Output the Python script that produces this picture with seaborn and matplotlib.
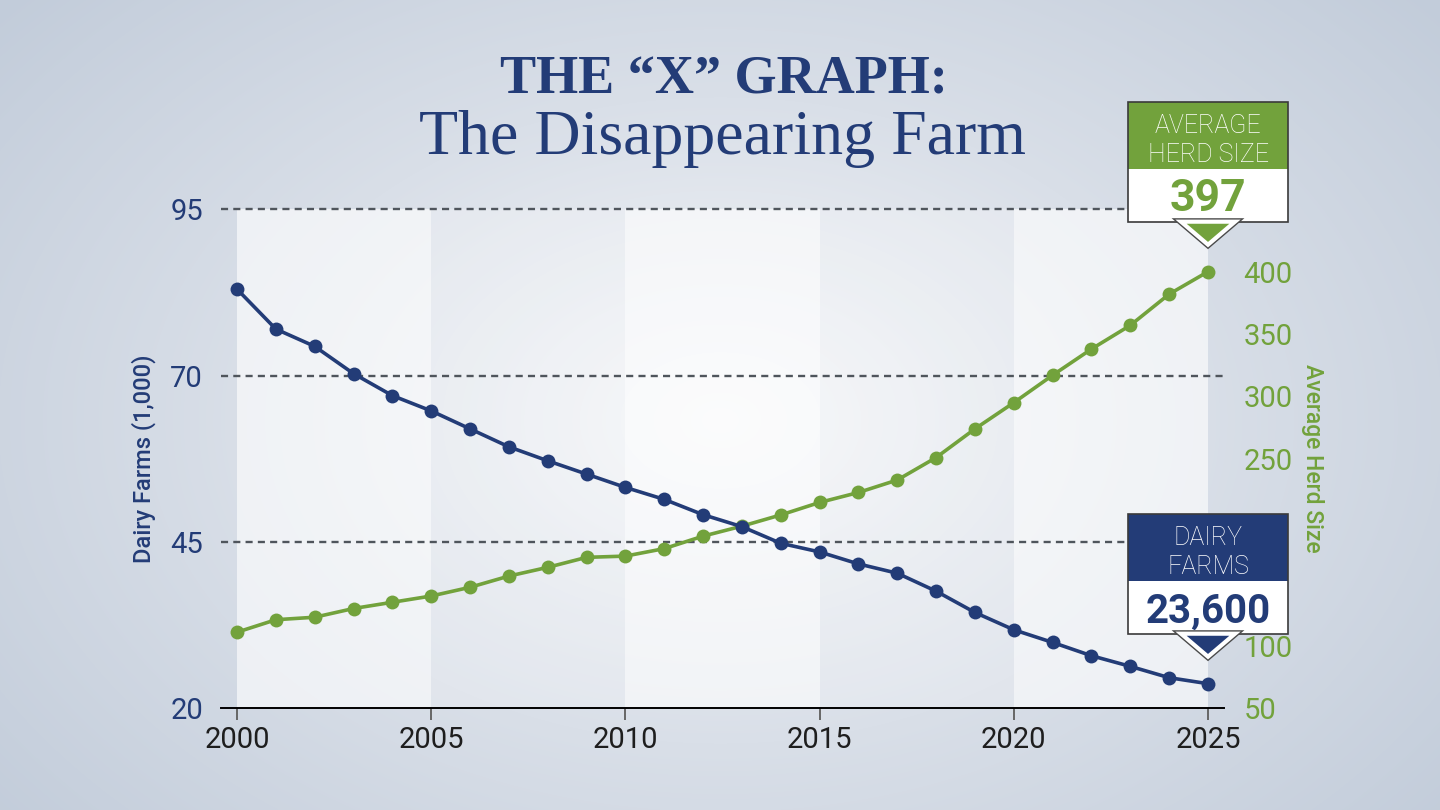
import numpy as np
import matplotlib
matplotlib.use('Agg')
import matplotlib.pyplot as plt
import matplotlib.patheffects as pe
from matplotlib.colors import LinearSegmentedColormap
from matplotlib.patches import Rectangle, Polygon
import seaborn as sns

# data
years = list(range(2000, 2026))
farms = [83.0, 77.0, 74.4, 70.3, 67.0, 64.7, 62.0, 59.3, 57.2, 55.2,
         53.2, 51.4, 49.1, 47.3, 44.8, 43.5, 41.7, 40.3, 37.6, 34.4,
         31.8, 29.9, 27.9, 26.3, 24.6, 23.7]
herd = [111, 121, 123, 130, 135, 140, 147, 156, 163, 171,
        172, 178, 188, 196, 205, 215, 223, 233, 251, 274,
        295, 317, 338, 357, 382, 400]
farm_ticks = [20, 45, 70, 95]
herd_ticks = [50, 100, 150, 200, 250, 300, 350, 400]
year_ticks = [2000, 2005, 2010, 2015, 2020, 2025]
callout_heads = ['AVERAGE\nHERD SIZE', 'DAIRY\nFARMS']
callout_values = ['397', '23,600']

navy = '#233c77'
green = '#72a23c'

sns.set_theme(style='white')
plt.rcParams['font.family'] = ['Roboto', 'DejaVu Sans']

W, H = 1440, 810
fig = plt.figure(figsize=(W / 100, H / 100), dpi=100)

# soft radial background
bg = fig.add_axes([0, 0, 1, 1], zorder=-10)
bg.axis('off')
yy, xx = np.mgrid[0:H, 0:W]
d = np.sqrt(((xx - 720) / 880) ** 2 + ((yy - 420) / 600) ** 2)
bg_cmap = LinearSegmentedColormap.from_list('bg', ['#f6f7f9', '#d9dfe8', '#c2ccda'])
bg.imshow(np.clip(d, 0, 1.1), cmap=bg_cmap, aspect='auto', extent=(0, 1, 0, 1))

ax = fig.add_axes([221 / W, 1 - 708.3 / H, 1003 / W, 499 / H])
ax.patch.set_alpha(0)

# alternating 5-year bands
for i, start in enumerate(year_ticks[:-1]):
    ax.axvspan(start, start + 5, color='white', alpha=0.62 if i % 2 == 0 else 0.24, lw=0, zorder=0)

ax2 = ax.twinx()
ax3 = ax.twinx()

sns.lineplot(x=years, y=herd, ax=ax2, color=green, marker='o', markersize=10,
             markeredgewidth=0, linewidth=2.6)
sns.lineplot(x=years, y=farms, ax=ax3, color=navy, marker='o', markersize=10,
             markeredgewidth=0, linewidth=2.6)

pad_yr = 16 / 38.84
ax.set_xlim(years[0] - pad_yr, years[-1] + pad_yr)
ax.set_ylim(20, 95)
ax2.set_ylim(50, 450)
ax3.set_ylim(20, 95)
ax3.axis('off')

ax.set_xticks(year_ticks)
ax.set_yticks(farm_ticks)
ax2.set_yticks(herd_ticks)

ax.yaxis.grid(True, linestyle=(0, (3, 2.2)), color='#4f555c', linewidth=1.7)
grid = ax.get_ygridlines()
grid[0].set_visible(False)
grid[-1].set_clip_on(False)
ax.set_axisbelow(True)

for s in ['top', 'left', 'right']:
    ax.spines[s].set_visible(False)
for s in ax2.spines.values():
    s.set_visible(False)
ax.spines['bottom'].set_color('black')
ax.spines['bottom'].set_linewidth(1.4)

ax.tick_params(axis='x', bottom=True, length=8.6, width=1.4, color='#666666',
               labelsize=21, labelcolor='#1e1e1e', pad=4)
ax.tick_params(axis='y', left=False, labelsize=21, labelcolor=navy, pad=7)
ax2.tick_params(axis='y', right=False, labelsize=21, labelcolor=green, pad=8)

ax.set_ylabel('Dairy Farms (1,000)', color=navy, fontsize=17, fontweight='medium')
ax.yaxis.set_label_coords((156 - 221) / 1003, 0.5)
ax2.set_ylabel('Average Herd Size', color=green, fontsize=16.5, fontweight='medium',
               rotation=270, va='bottom')
ax2.yaxis.set_label_coords((1301 - 221) / 1003, 0.5)

# title
fig.text(0.503, 1 - 93 / H, 'THE \u201cX\u201d GRAPH:', ha='center', va='baseline',
         fontsize=39, fontweight='bold', color=navy, family=['Liberation Serif'])
fig.text(0.502, 1 - 154 / H, 'The Disappearing Farm', ha='center', va='baseline',
         fontsize=46, color=navy, family=['Liberation Serif'])


def callout(axis, x, y, head, value, color, value_size):
    px, py = axis.transData.transform((x, y))
    tip = py + 25
    base = tip + 25
    white_h, head_h, half = 53, 67, 80
    tf = fig.transFigure
    fig.add_artist(Rectangle(((px - half) / W, base / H), 2 * half / W, white_h / H,
                             transform=tf, facecolor='white', edgecolor='none', zorder=20))
    fig.add_artist(Rectangle(((px - half) / W, (base + white_h) / H), 2 * half / W, head_h / H,
                             transform=tf, facecolor=color, edgecolor='none', zorder=20))
    fig.add_artist(Rectangle(((px - half) / W, base / H), 2 * half / W, (white_h + head_h) / H,
                             transform=tf, facecolor='none', edgecolor='#3a3a3a', lw=1.2, zorder=21))
    tri = Polygon([((px - 27) / W, base / H), ((px + 27) / W, base / H), (px / W, (tip + 2) / H)],
                  closed=True, transform=tf, facecolor=color, edgecolor='white', lw=3, zorder=22,
                  path_effects=[pe.Stroke(linewidth=5, foreground='#4a4a4a'), pe.Normal()])
    fig.add_artist(tri)
    top = base + white_h + head_h
    line1, line2 = head.split('\n')
    fig.text(px / W, (top - 31) / H, line1, ha='center', va='baseline', color='white',
             fontsize=18, fontweight='light', zorder=23)
    fig.text(px / W, (top - 60.5) / H, line2, ha='center', va='baseline', color='white',
             fontsize=18, fontweight='light', zorder=23)
    fig.text(px / W, (base + white_h - 42) / H, value, ha='center', va='baseline', color=color,
             fontsize=value_size, fontweight='bold', zorder=23)
    return base, top


callout(ax2, years[-1], herd[-1], callout_heads[0], callout_values[0], green, 32)
lo, hi = callout(ax3, years[-1], farms[-1], callout_heads[1], callout_values[1], navy, 29)

# the farms callout sits over part of the right scale, as in the original
for tick in ax2.yaxis.get_major_ticks():
    ty = ax2.transData.transform((0, tick.get_loc()))[1]
    if lo - 5 < ty < hi + 5:
        tick.label2.set_visible(False)

fig.savefig('out.png', dpi=100)
